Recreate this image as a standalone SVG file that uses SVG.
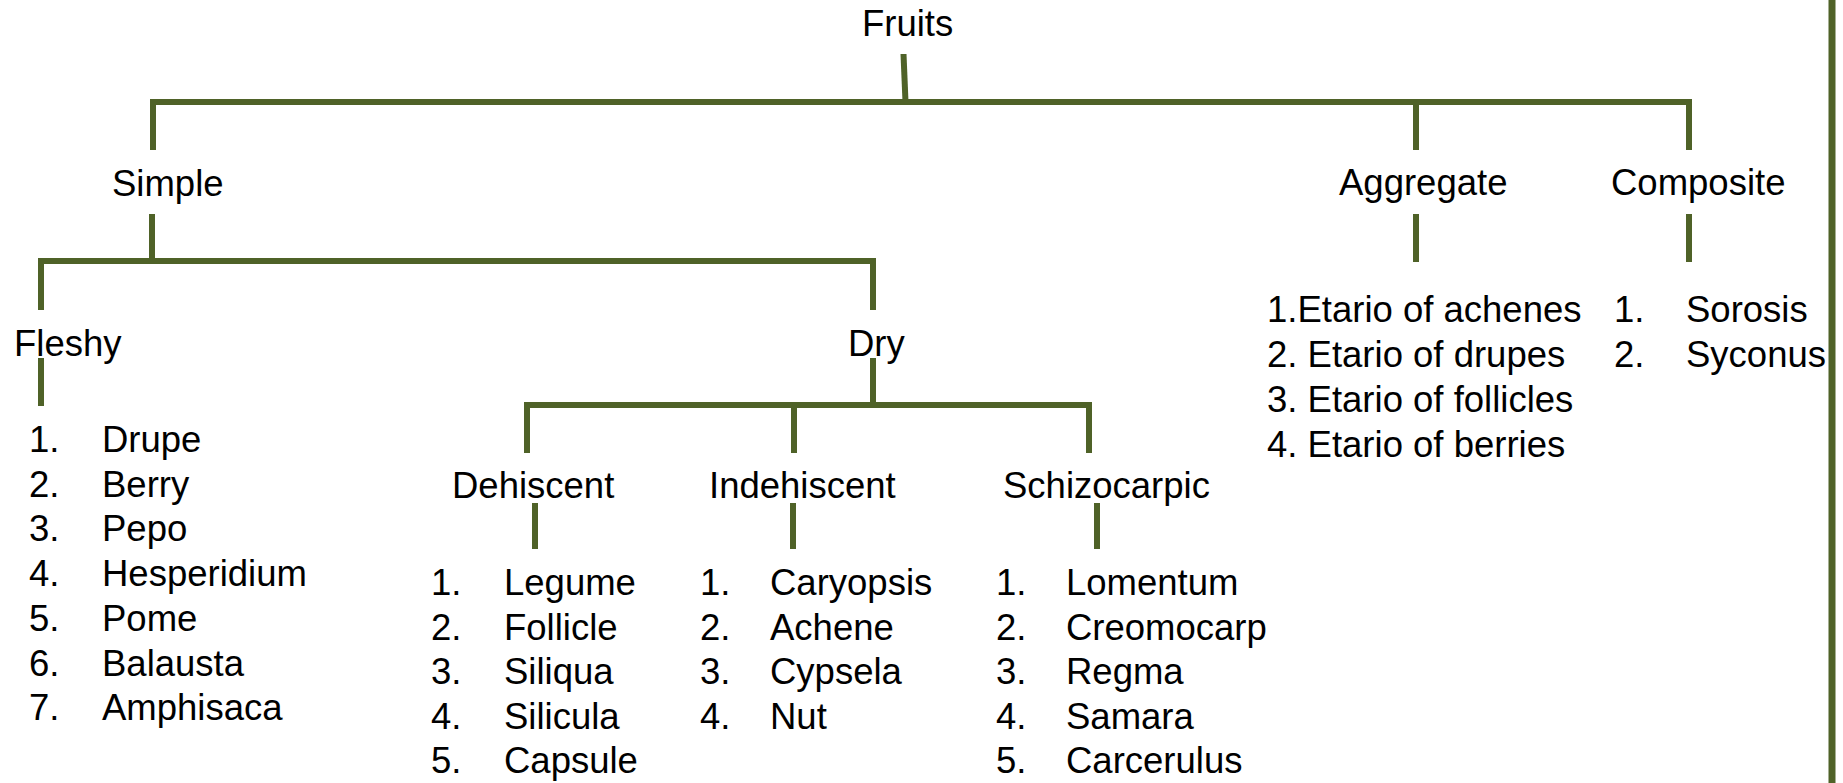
<svg xmlns="http://www.w3.org/2000/svg" width="1843" height="783" viewBox="0 0 1843 783">
<style>
text{font-family:"Liberation Sans",Arial,sans-serif;font-size:36.5px;fill:#000}
.c{stroke:#4F6228;stroke-width:6;fill:none;stroke-linecap:butt}
</style>
<rect width="1843" height="783" fill="#fff"/>
<g id="connectors" class="c">
<path d="M903.5,54 L905.5,102"/>
<path d="M150,102 H1692"/>
<path d="M153,99 V150"/>
<path d="M1416,102 V150"/>
<path d="M1689,99 V150"/>
<path d="M152,214 V261"/>
<path d="M38,261 H876"/>
<path d="M41,258 V310"/>
<path d="M873,258 V310"/>
<path d="M1416,214 V262"/>
<path d="M1689,214 V262"/>
<path d="M41,358 V406"/>
<path d="M873,358 V405"/>
<path d="M524,405 H1092"/>
<path d="M527,402 V453"/>
<path d="M794,405 V453"/>
<path d="M1089,402 V453"/>
<path d="M535,503 V549"/>
<path d="M793,503 V549"/>
<path d="M1097,503 V549"/>
<path d="M1832,0 V783" stroke-width="7"/>
</g>
<g id="fruits"><text x="862" y="36">Fruits</text></g>
<g id="simple"><text x="112" y="196">Simple</text></g>
<g id="aggregate"><text x="1339" y="195">Aggregate</text></g>
<g id="composite"><text x="1611" y="195">Composite</text></g>
<g id="fleshy"><text x="14" y="356">Fleshy</text></g>
<g id="dry"><text x="848" y="356">Dry</text></g>
<g id="dehiscent"><text x="452" y="498">Dehiscent</text></g>
<g id="indehiscent"><text x="709" y="498">Indehiscent</text></g>
<g id="schizocarpic"><text x="1003" y="498">Schizocarpic</text></g>
<g id="fleshy-list">
<text x="29" y="452">1.</text><text x="102" y="452">Drupe</text>
<text x="29" y="497">2.</text><text x="102" y="497">Berry</text>
<text x="29" y="541">3.</text><text x="102" y="541">Pepo</text>
<text x="29" y="586">4.</text><text x="102" y="586">Hesperidium</text>
<text x="29" y="631">5.</text><text x="102" y="631">Pome</text>
<text x="29" y="676">6.</text><text x="102" y="676">Balausta</text>
<text x="29" y="720">7.</text><text x="102" y="720">Amphisaca</text>
</g>
<g id="dehiscent-list">
<text x="431" y="595">1.</text><text x="504" y="595">Legume</text>
<text x="431" y="640">2.</text><text x="504" y="640">Follicle</text>
<text x="431" y="684">3.</text><text x="504" y="684">Siliqua</text>
<text x="431" y="729">4.</text><text x="504" y="729">Silicula</text>
<text x="431" y="773">5.</text><text x="504" y="773">Capsule</text>
</g>
<g id="indehiscent-list">
<text x="700" y="595">1.</text><text x="770" y="595">Caryopsis</text>
<text x="700" y="640">2.</text><text x="770" y="640">Achene</text>
<text x="700" y="684">3.</text><text x="770" y="684">Cypsela</text>
<text x="700" y="729">4.</text><text x="770" y="729">Nut</text>
</g>
<g id="schizocarpic-list">
<text x="996" y="595">1.</text><text x="1066" y="595">Lomentum</text>
<text x="996" y="640">2.</text><text x="1066" y="640">Creomocarp</text>
<text x="996" y="684">3.</text><text x="1066" y="684">Regma</text>
<text x="996" y="729">4.</text><text x="1066" y="729">Samara</text>
<text x="996" y="773">5.</text><text x="1066" y="773">Carcerulus</text>
</g>
<g id="aggregate-list">
<text x="1267" y="322">1.Etario of achenes</text>
<text x="1267" y="367">2. Etario of drupes</text>
<text x="1267" y="412">3. Etario of follicles</text>
<text x="1267" y="457">4. Etario of berries</text>
</g>
<g id="composite-list">
<text x="1614" y="322">1.</text><text x="1686" y="322">Sorosis</text>
<text x="1614" y="367">2.</text><text x="1686" y="367">Syconus</text>
</g>
</svg>
